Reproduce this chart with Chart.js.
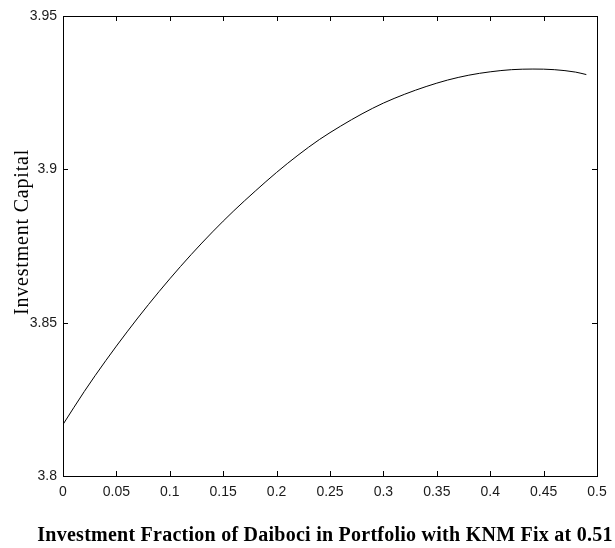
<!DOCTYPE html>
<html>
<head>
<meta charset="utf-8">
<script src="https://cdn.jsdelivr.net/npm/chart.js@4.4.1/dist/chart.umd.min.js"></script>
<style>
  html, body { margin: 0; padding: 0; background: #fff; }
  #wrap { width: 615px; height: 548px; }
</style>
</head>
<body>
<div id="wrap"><canvas id="grafico"></canvas></div>
<script>
// fraction of Daiboci in the portfolio and resulting capital
const fracao = [0, 0.02, 0.04, 0.06, 0.08, 0.10, 0.12, 0.14, 0.16, 0.18, 0.20, 0.22, 0.24,
                0.26, 0.28, 0.30, 0.32, 0.34, 0.36, 0.38, 0.40, 0.42, 0.44, 0.46, 0.48, 0.49];
const capital = [3.8168, 3.8276, 3.8376, 3.8470, 3.8559, 3.8643, 3.8722, 3.8796, 3.8865, 3.8929,
                 3.8990, 3.9046, 3.9097, 3.9141, 3.9181, 3.9216, 3.9245, 3.9270, 3.9291, 3.9307,
                 3.9318, 3.9325, 3.9327, 3.9325, 3.9317, 3.9309];

const xTicks = [0, 0.05, 0.1, 0.15, 0.2, 0.25, 0.3, 0.35, 0.4, 0.45, 0.5];
const yTicks = [3.8, 3.85, 3.9, 3.95];

const xTitulo = 'Investment Fraction of Daiboci in Portfolio with KNM Fix at 0.51';
const yTitulo = 'Investment Capital';

const fonteTicks = { family: "'Liberation Sans', Arial, sans-serif", size: 14 };

// box around the plot with inward tick marks on all four sides, plus axis titles
const moldura = {
    id: 'moldura',
    afterDraw(chart) {
        const { ctx, chartArea: a, scales } = chart;
        const tam = 5;
        ctx.save();
        ctx.strokeStyle = '#000';
        ctx.lineWidth = 1;
        ctx.strokeRect(Math.round(a.left) + 0.5, Math.round(a.top) + 0.5,
                       Math.round(a.right - a.left), Math.round(a.bottom - a.top));
        ctx.beginPath();
        xTicks.forEach(v => {
            const px = Math.round(scales.x.getPixelForValue(v)) + 0.5;
            ctx.moveTo(px, a.bottom); ctx.lineTo(px, a.bottom - tam);
            ctx.moveTo(px, a.top); ctx.lineTo(px, a.top + tam);
        });
        yTicks.forEach(v => {
            const py = Math.round(scales.y.getPixelForValue(v)) + 0.5;
            ctx.moveTo(a.left, py); ctx.lineTo(a.left + tam, py);
            ctx.moveTo(a.right, py); ctx.lineTo(a.right - tam, py);
        });
        ctx.stroke();

        ctx.fillStyle = '#000';
        ctx.font = "bold 20px 'Liberation Serif', 'Times New Roman', serif";
        ctx.letterSpacing = '0.25px';
        ctx.textAlign = 'center';
        ctx.textBaseline = 'alphabetic';
        ctx.fillText(xTitulo, (a.left + a.right) / 2 - 5, a.bottom + 65);

        ctx.font = "20px 'Liberation Serif', 'Times New Roman', serif";
        ctx.letterSpacing = '0.8px';
        ctx.translate(28, 232);
        ctx.rotate(-Math.PI / 2);
        ctx.fillText(yTitulo, 0, 0);
        ctx.restore();
    }
};

new Chart(document.getElementById('grafico'), {
    type: 'line',
    data: {
        datasets: [{
            data: fracao.map((f, i) => ({ x: f, y: capital[i] })),
            borderColor: '#000',
            borderWidth: 1,
            pointRadius: 0,
            cubicInterpolationMode: 'monotone',
            fill: false
        }]
    },
    options: {
        responsive: true,
        maintainAspectRatio: false,
        animation: false,
        layout: { padding: { top: 16, right: 18, left: 0, bottom: 0 } },
        plugins: {
            legend: { display: false },
            tooltip: { enabled: false }
        },
        scales: {
            x: {
                type: 'linear',
                min: 0,
                max: 0.5,
                afterBuildTicks: s => { s.ticks = xTicks.map(v => ({ value: v })); },
                afterFit: s => { s.height = 72; },
                grid: { display: false, drawTicks: false },
                border: { display: false },
                ticks: {
                    color: '#1a1a1a',
                    font: fonteTicks,
                    padding: 8,
                    maxRotation: 0,
                    callback: v => String(v)
                }
            },
            y: {
                type: 'linear',
                min: 3.8,
                max: 3.95,
                afterBuildTicks: s => { s.ticks = yTicks.map(v => ({ value: v })); },
                afterFit: s => { s.width = 63; },
                grid: { display: false, drawTicks: false },
                border: { display: false },
                ticks: {
                    color: '#1a1a1a',
                    font: fonteTicks,
                    padding: 6,
                    callback: v => String(v)
                }
            }
        }
    },
    plugins: [moldura]
});
</script>
</body>
</html>
